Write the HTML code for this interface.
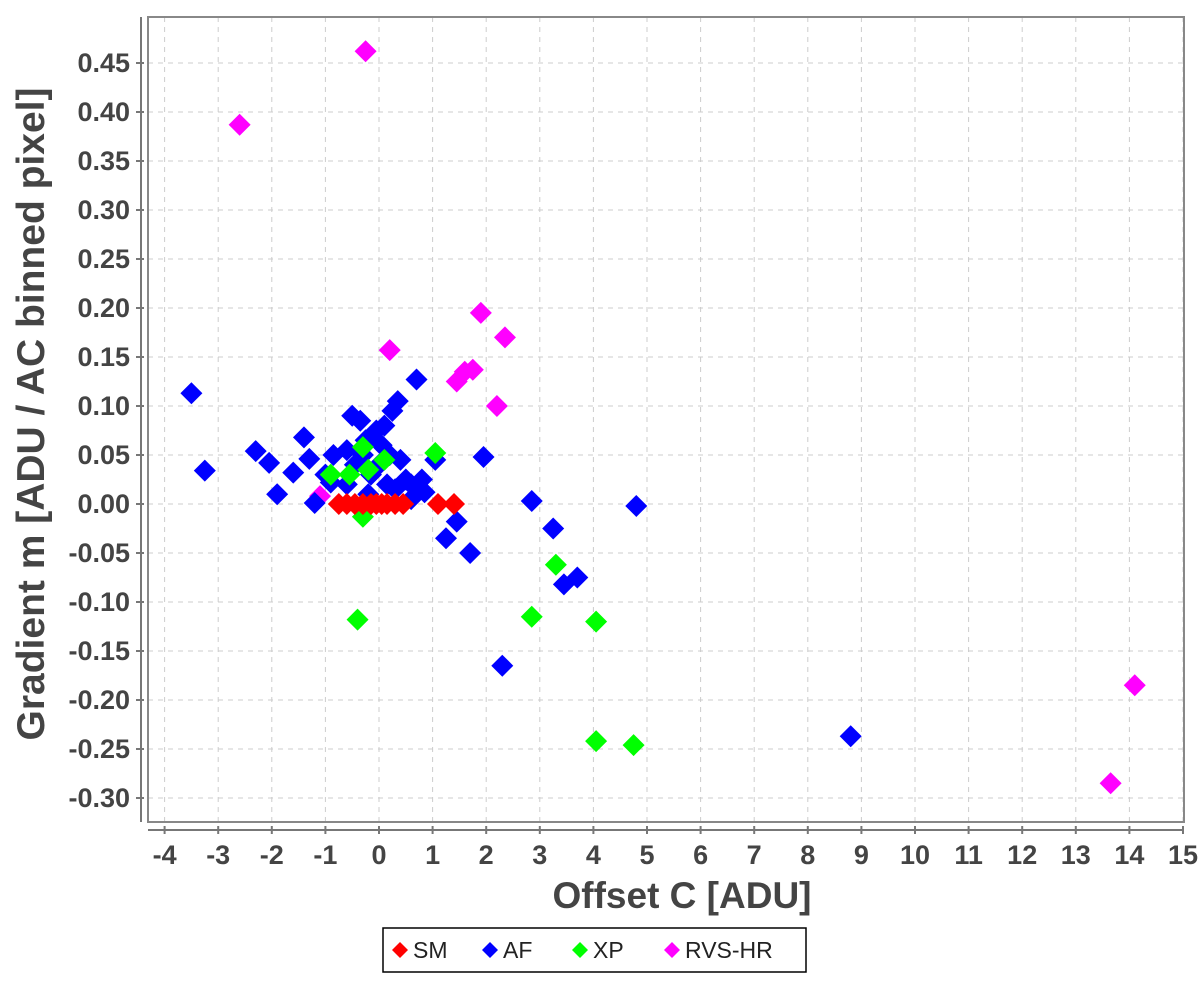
<!DOCTYPE html>
<html><head><meta charset="utf-8"><style>
body{margin:0;background:#fff;}
svg text{font-family:"Liberation Sans",sans-serif;}
</style></head><body>
<svg id="chart" width="1200" height="976" xmlns="http://www.w3.org/2000/svg"></svg>
<script>
const xTicks=[-4,-3,-2,-1,0,1,2,3,4,5,6,7,8,9,10,11,12,13,14,15];
const yTicks=[0.45,0.40,0.35,0.30,0.25,0.20,0.15,0.10,0.05,0.00,-0.05,-0.10,-0.15,-0.20,-0.25,-0.30];
const smX=[-0.75,-0.6,-0.45,-0.3,-0.15,-0.05,0.05,0.15,0.3,0.45,1.1,1.4];
const smY=[0,0,0,0,0,0,0,0,0,0,0,0];
const afX=[-3.5,-3.25,-2.3,-2.05,-1.9,-1.6,-1.4,-1.3,-1.2,-1.0,-0.9,-0.85,-0.6,-0.5,-0.35,-0.45,-0.3,-0.25,-0.15,-0.05,0.05,0.1,0.2,0.25,0.35,0.15,0.3,0.4,0.5,0.6,0.7,0.8,0.85,0.6,1.05,1.25,1.45,1.7,1.95,2.3,2.85,3.25,3.45,3.7,4.8,8.8,-0.6,-0.2,0.0];
const afY=[0.113,0.034,0.054,0.042,0.01,0.032,0.068,0.046,0.001,0.03,0.022,0.05,0.055,0.09,0.085,0.04,0.05,0.065,0.03,0.075,0.06,0.08,0.05,0.095,0.105,0.02,0.015,0.045,0.025,0.02,0.127,0.025,0.012,0.005,0.045,-0.035,-0.018,-0.05,0.048,-0.165,0.003,-0.025,-0.082,-0.075,-0.002,-0.237,0.02,0.01,0.04];
const xpX=[-0.9,-0.55,-0.3,0.1,-0.2,-0.3,-0.4,1.05,3.3,2.85,4.05,4.05,4.75];
const xpY=[0.03,0.03,0.058,0.045,0.035,-0.013,-0.118,0.052,-0.062,-0.115,-0.12,-0.242,-0.246];
const rvsX=[-1.1,-2.6,-0.25,0.2,1.9,2.35,1.45,1.6,1.75,2.2,14.1,13.65];
const rvsY=[0.008,0.387,0.462,0.157,0.195,0.17,0.125,0.135,0.137,0.1,-0.185,-0.285];

const NS="http://www.w3.org/2000/svg";
const svg=document.getElementById('chart');
const L=148,R=1184,T=17,B=822;
const sx=v=>379+53.6*v;
const sy=v=>504-980*v;
function mk(tag,attrs,parent){const e=document.createElementNS(NS,tag);for(const k in attrs)e.setAttribute(k,attrs[k]);(parent||svg).appendChild(e);return e;}
const grid=mk('g',{});


xTicks.forEach(t=>{
  const x=sx(t);
  const gl=mk('line',{x1:x,x2:x,y1:T,y2:B,stroke:'#ccc','stroke-dasharray':'5,5','stroke-width':1},grid);
  
  
  const tk=mk('line',{x1:x,x2:x,y1:826,y2:834,stroke:'#777','stroke-width':2});
  
  
  const tx=mk('text',{x:x,y:864,'text-anchor':'middle','font-size':27,'font-weight':'bold',fill:'#444'});
  tx.textContent=t;
  
  
});
yTicks.forEach(t=>{
  const y=sy(t);
  const gl=mk('line',{x1:L,x2:R,y1:y,y2:y,stroke:'#ccc','stroke-dasharray':'5,5','stroke-width':1},grid);
  
  
  const tk=mk('line',{x1:136,x2:144,y1:y,y2:y,stroke:'#777','stroke-width':2});
  
  
  const tx=mk('text',{x:130,y:y+9,'text-anchor':'end','font-size':27,'font-weight':'bold',fill:'#444'});
  tx.textContent=t.toFixed(2);
  
  
});
const box=mk('rect',{x:L,y:T,width:R-L,height:B-T,fill:'none',stroke:'#888','stroke-width':2});


const xa=mk('line',{x1:L,x2:R,y1:830,y2:830,stroke:'#777','stroke-width':2});


const ya=mk('line',{x1:141,x2:141,y1:T,y2:B,stroke:'#777','stroke-width':2});


function series(xs,ys,color,name){
  const g=mk('g',{fill:color});
  
  
  xs.forEach((v,i)=>{
    const cx=sx(v),cy=sy(ys[i]),r=11;
    const p=mk('polygon',{points:`${cx},${cy-r} ${cx+r},${cy} ${cx},${cy+r} ${cx-r},${cy}`},g);
    
    
  });
}
series(rvsX,rvsY,'#ff00ff','rvs-hr');
series(afX,afY,'#0000ff','af');
series(xpX,xpY,'#00ff00','xp');
series(smX,smY,'#ff0000','sm');
const xt=mk('text',{x:682,y:908,'text-anchor':'middle','font-size':37,'font-weight':'bold',fill:'#444'});
xt.textContent='Offset C [ADU]';


const yt=mk('text',{x:0,y:0,transform:'translate(44,414) rotate(-90)','text-anchor':'middle','font-size':39,'font-weight':'bold',fill:'#444'});
yt.textContent='Gradient m [ADU / AC binned pixel]';


const lg=mk('g',{});


const lb=mk('rect',{x:383,y:928,width:423,height:44,fill:'#fff',stroke:'#000','stroke-width':1.5},lg);


const items=[['SM','#ff0000',400],['AF','#0000ff',490],['XP','#00ff00',580],['RVS-HR','#ff00ff',672]];
items.forEach(([n,c,x])=>{
  const cy=950,r=8;
  const p=mk('polygon',{points:`${x},${cy-r} ${x+r},${cy} ${x},${cy+r} ${x-r},${cy}`,fill:c},lg);
  
  
  const t=mk('text',{x:x+13,y:958,'font-size':23,fill:'#222'},lg);
  t.textContent=n;
  
  
});
</script>
</body></html>
